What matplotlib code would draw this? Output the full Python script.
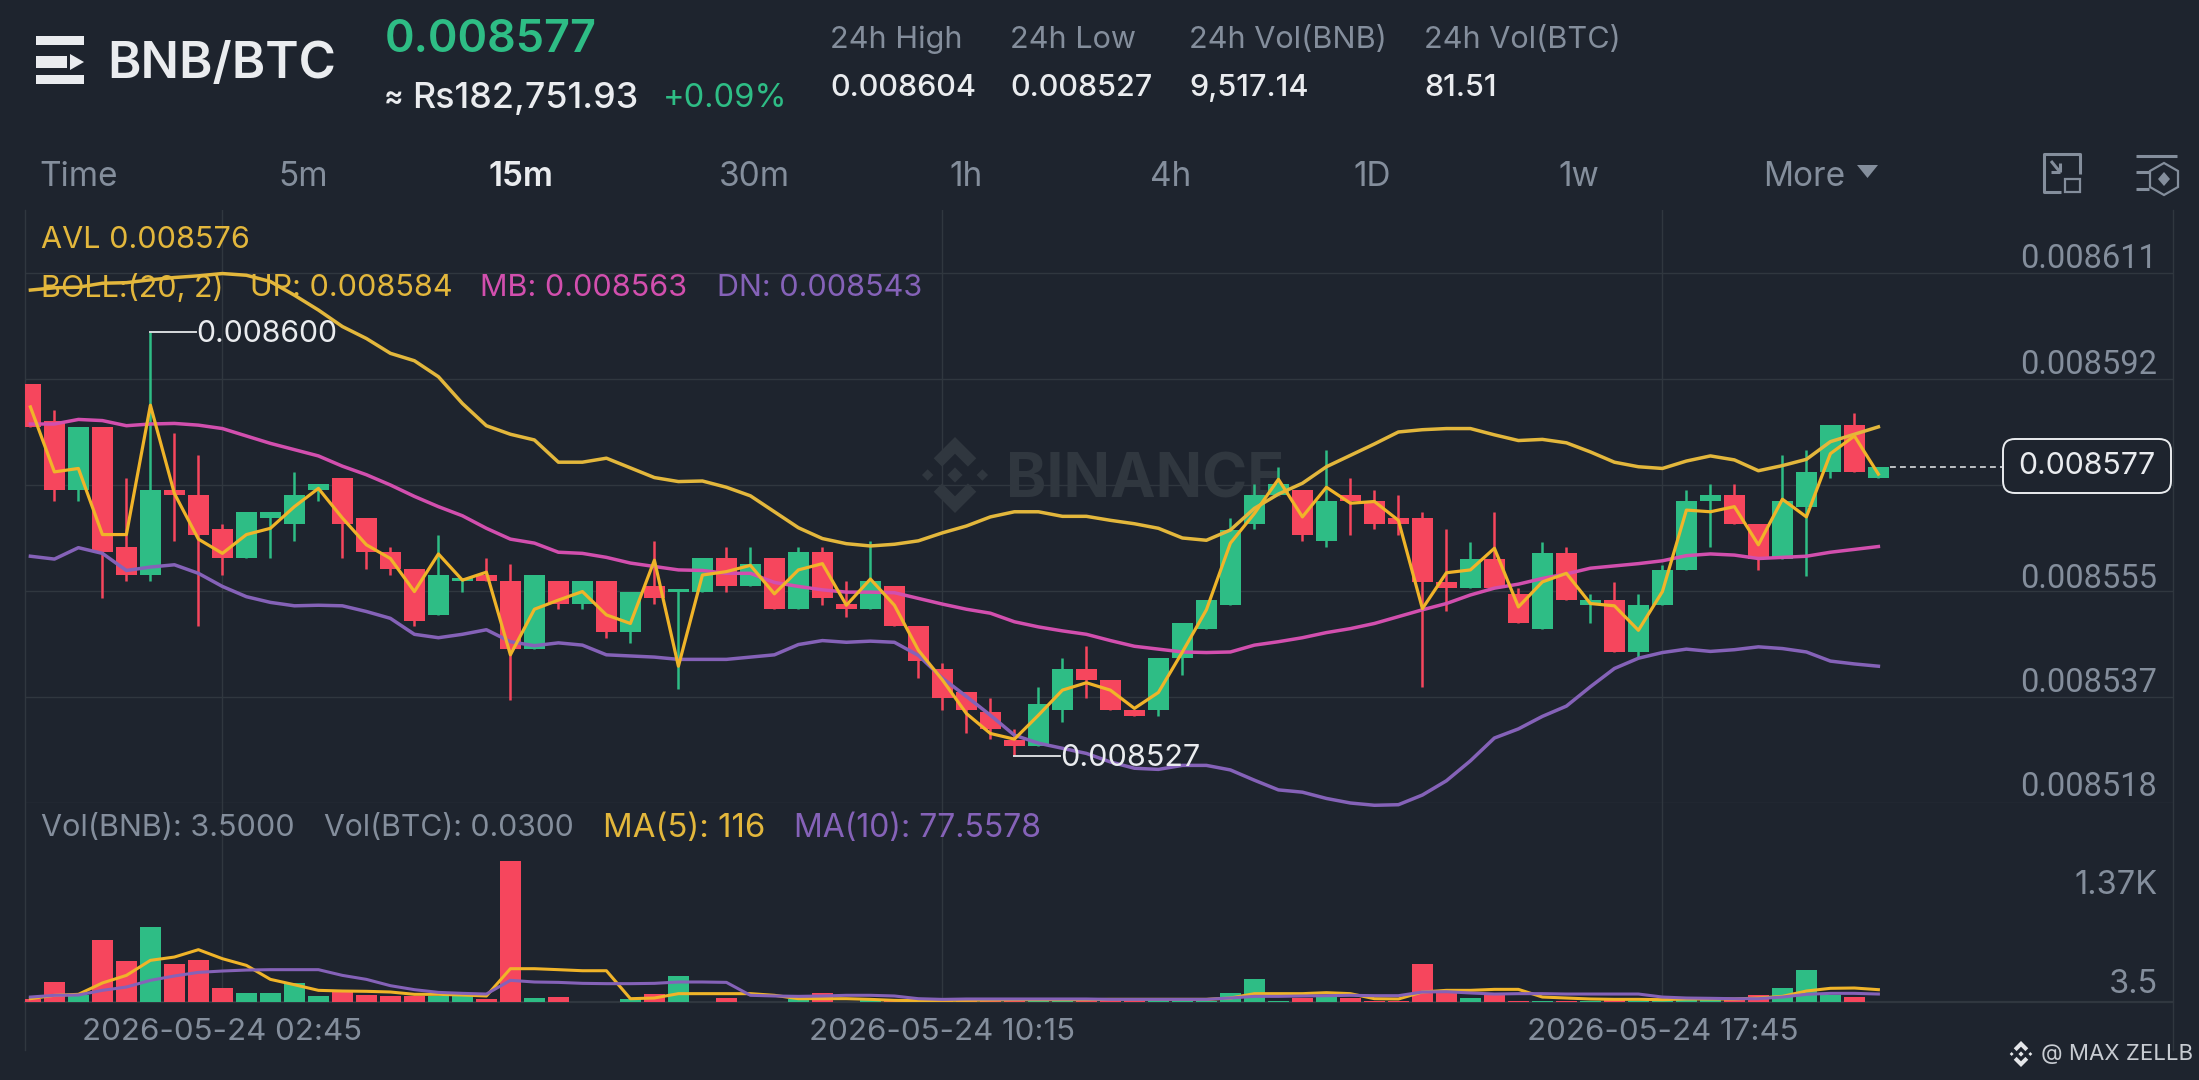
import numpy as np
import matplotlib
matplotlib.use("Agg")
import matplotlib.pyplot as plt
from matplotlib.patches import Polygon, Rectangle, FancyBboxPatch

W, H = 2199, 1080
BG = "#1e242e"; GRID = "#30373f"; GREEN = "#2ebd85"; RED = "#f6465d"
GRAY = "#848e9c"; WHITE = "#eaecef"; YEL = "#e3b73c"; MAG = "#d24fae"; PUR = "#8562b8"
AVLC = "#f0b429"
plt.rcParams["font.family"] = ["Inter", "DejaVu Sans"]

# prices: units of 0.000001 above 0.008
opens = [591.5,585,573,584,563,558,573,572,566,561,568,567,573,575,568,562,559,551,557,558,557,545,557,553,557,548,556,555,
         555,561,556,561,552,562,553,552,556,549,541.5,537.4,534,529,528,534.3,541.5,539.5,534.3,534.3,543.5,548.6,552.7,567,572,573,564,572,571,
         568,568,556.8,555.7,560.8,554.7,548.6,561.9,552.7,553.7,544.5,552.7,558.8,571,572,567,560.9,570,576,584.3,575]
closes = [584,573,584,562,558,573,572,565,561,569,569,572,574,567,562,559,550,558,557.5,557,545,558,553,557,548,555,554,555.5,
          561,556,560,552,562,554,552,557,549,543,536.4,534.3,531,528,535.4,541.5,539.5,534.3,533.3,543.5,549.6,553.7,565.9,572,574,565,571,571,567,
          567,556.8,555.7,560.8,555.7,549.6,561.9,553.7,553.7,544.5,552.7,558.8,571,572,567,560.9,571,576,584.3,576,577]
highs = [591.5,587,584,584,575,600.6,583,579,567,569,569,576,574,575,568,563,559,565,557.5,561,560,558,557,557,557,555,564,555.5,
         561,563,563,561,563,563,557,564,556,549,542.5,537.4,536.4,531,538.4,543.5,545.5,539.5,534.3,543.5,549.6,553.7,568,574,577,573,580,575,573,
         572,569,566,563.8,569,555.7,563.8,562.9,554.7,556.8,554.7,559.8,573,574,574,567,579,580,584.3,586.4,577]
lows = [584,571,571,554,557,557,564,549,558,561,561,564,571,561,559,558,549,551,555,557,536,545,552,552,547,546,553,538,
        555,555,556,552,552,552.7,550.7,552,549,540,534.3,530.2,529.2,526.2,528,532.3,536.4,534.3,533.3,533.3,540.4,548.6,552.7,566,572,564,563,565,566,
        565,538.4,551.7,555.7,555.7,549.6,548.6,553.7,549.6,544.5,543.5,552.7,558.8,563,567,558.8,560.9,557.8,575,576,575]
avl = [587.5,576.1,576.7,565.1,565.1,587.8,572.3,564.3,561.8,565.1,566.2,570,573.2,568,563.3,560.9,555.1,561.7,557.1,558.5,544,552,553.6,555.1,551,549.5,560.6,542,
       558,558.6,559.7,554.7,558.9,560,552.7,557.3,552.7,544.8,539.6,533.7,530.2,529.2,533.4,537.8,539.1,537.8,534.6,537.4,544.5,551.9,563.6,568.8,574.8,568.2,573.4,570.6,570.9,
       567.6,552.1,558.4,558.9,562.7,552.4,556.8,558.3,553,552.6,548.3,555.1,569.4,569.1,570,563.3,571.3,568.2,579.3,582.4,575.7]
boll_up = [608,608.4,608.5,609.2,609.3,609.8,610.2,610.5,610.9,610.6,609.5,607.1,604.5,601.6,599.5,596.9,595.6,592.8,588.1,584.2,582.7,581.7,577.8,577.8,578.5,576.8,575.1,574.4,
           574.5,573.4,571.9,569.1,566.3,564.4,563.5,563.1,563.4,564,565.4,566.6,568.2,569.1,569.1,568.3,568.3,567.6,567,566.2,564.5,564.1,565.9,569.7,572.2,574.1,577,579,581,
           583.1,583.5,583.7,583.7,582.6,581.6,581.8,581.2,579.6,577.8,577,576.7,578,578.9,578.2,576.3,577.2,578.3,581.4,582.7,584]
boll_mb = [584.5,584.5,585.3,585.1,584.2,584.5,584.6,584.3,583.7,582.4,581.1,580,578.9,577.1,575.6,573.8,571.8,570,568.4,566.2,564.3,563.6,562,561.8,561.1,560.1,559.5,558.9,
           558.8,558.3,558.3,556.7,556,555.4,555,555,554.9,553.9,552.9,552,551.3,549.8,548.9,548.2,547.6,546.5,545.5,545,544.5,544.4,544.5,545.7,546.3,547,547.9,548.6,549.5,
           550.7,551.9,553,554.5,555.7,556.4,557.4,558.2,559.2,559.6,560,560.5,561.4,561.7,561.5,560.9,561.1,561.3,562,562.5,563]
boll_dn = [561.3,560.8,562.8,561.8,558.8,559.4,559.8,558.3,556,554.2,553.2,552.6,552.7,552.6,551.6,550.4,547.6,547,547.6,548.4,546.3,545.6,546.1,545.7,544,543.8,543.6,543.2,
           543.2,543.2,543.6,544,545.8,546.5,546.2,546.4,546.2,543.9,539.9,536.7,533.4,529.9,528.5,527.6,526.7,525.2,524.1,523.9,524.6,524.6,523.8,522,520.3,519.9,518.8,518,517.6,
           517.7,519.4,521.9,525.4,529.4,531,533.2,535,538.4,541.6,543.4,544.4,545,544.6,544.9,545.4,545.1,544.5,542.9,542.4,542]
volume = [44,266,89,820,545,997,509,563,190,124,120,257,75,133,89,80,75,80,75,40,1874,58,66,4,4,44,102,341,4,49,4,4,35,124,4,35,9,9,13,18,22,27,9,9,27,9,9,9,9,9,
          124,310,13,53,66,53,13,13,509,124,53,111,9,9,9,9,53,13,13,22,22,31,97,190,430,89,66,4]
vol_ma5 = [44,89,102,253,354,554,598,696,576,487,301,230,155,146,142,133,102,102,93,80,443,443,430,416,416,44,53,111,111,111,111,89,44,44,44,35,22,18,22,22,27,31,31,31,31,35,35,35,35,35,
           53,111,111,111,124,111,44,40,133,155,155,168,168,66,53,40,35,35,31,40,40,40,53,75,146,182,186,164]
vol_ma10 = [66,89,93,155,199,288,346,394,412,425,430,430,430,354,301,217,164,128,115,106,288,266,261,248,244,244,248,266,266,261,89,80,75,80,89,89,80,44,35,40,40,40,40,40,40,35,35,35,35,35,
            53,75,75,80,84,89,84,84,133,137,120,106,111,111,106,106,106,106,66,53,49,44,44,66,102,115,115,106]

price_ticks = [611, 592.4, 573.8, 555.2, 536.6, 518]
price_labels = {"0.008611": 256, "0.008592": 362, "0.008555": 575, "0.008537": 680, "0.008518": 784}
time_idx = [8, 38, 68]
time_labels = ["2026-05-24 02:45", "2026-05-24 10:15", "2026-05-24 17:45"]
tabs = [("Time",39),("5m",278),("15m",488),("30m",719),("1h",949),("4h",1150),("1D",1353),("1w",1558),("More",1763)]
header_stats = [("24h High","0.008604",830),("24h Low","0.008527",1010),("24h Vol(BNB)","9,517.14",1189),("24h Vol(BTC)","81.51",1424)]

def P(a):
    return np.asarray(a, float) * 1e-6 + 0.008

fig = plt.figure(figsize=(W/100, H/100), dpi=100, facecolor=BG)

def box(x0, y0, x1, y1):
    return [x0/W, 1-y1/H, (x1-x0)/W, (y1-y0)/H]

bg = fig.add_axes([0,0,1,1], zorder=0); bg.set_xlim(0,W); bg.set_ylim(H,0); bg.axis("off")
ov = fig.add_axes([0,0,1,1], zorder=10); ov.set_xlim(0,W); ov.set_ylim(H,0); ov.axis("off"); ov.patch.set_alpha(0)

def logo(a, cx, cy, r, color, zo=1):
    pts = [[(0,-1),(.56,-.44),(.34,-.22),(0,-.56),(-.34,-.22),(-.56,-.44)],
           [(0,1),(.56,.44),(.34,.22),(0,.56),(-.34,.22),(-.56,.44)],
           [(0,-.2),(.2,0),(0,.2),(-.2,0)],
           [(-.72,-.15),(-.57,0),(-.72,.15),(-.87,0)],
           [(.72,-.15),(.87,0),(.72,.15),(.57,0)]]
    for p in pts:
        a.add_patch(Polygon([(cx+x*r, cy+y*r) for x,y in p], closed=True, fc=color, ec="none", zorder=zo))

for x in (25, 2173):
    bg.plot([x,x],[210,1050], color=GRID, lw=1)
bg.plot([25,2173],[1002,1002], color=GRID, lw=1.6)
logo(bg, 955, 475, 38, "#30373f")
bg.text(1006, 481, "BINANCE", color="#30373f", fontsize=44, fontweight="bold", va="center", ha="left")

# price pane
ax = fig.add_axes(box(25,210,2173,803), zorder=2)
ax.patch.set_alpha(0)
ax.set_xlim((25-30.4)/24, (2173-30.4)/24)
ax.set_ylim(P(518), P(622.05))
ax.set_yticks(P(price_ticks)); ax.set_xticks(time_idx)
ax.tick_params(length=0, labelleft=False, labelbottom=False)
ax.grid(True, color=GRID, lw=1); ax.set_axisbelow(True)
for s in ax.spines.values(): s.set_visible(False)

xs = np.arange(len(opens))
o, c, h, l = P(opens), P(closes), P(highs), P(lows)
cols = [GREEN if cc >= oo else RED for oo, cc in zip(opens, closes)]
ax.vlines(xs, l, h, colors=cols, lw=1.8, zorder=3)
ax.bar(xs, np.abs(c-o), bottom=np.minimum(o,c), width=0.875, color=cols, zorder=3)
ax.plot(xs, P(boll_up), color=YEL, lw=2.5, zorder=4, solid_joinstyle="round")
ax.plot(xs, P(boll_mb), color=MAG, lw=2.5, zorder=4)
ax.plot(xs, P(boll_dn), color=PUR, lw=2.5, zorder=4, clip_on=False)
ax.plot(xs, P(avl), color=AVLC, lw=2.3, zorder=5)
ax.plot([77.5, (2002-30.4)/24], [c[-1]]*2, color="#d8dadd", lw=1.2, ls=(0,(3.5,2.5)), zorder=5)

i_hi = int(np.argmax(highs)); i_lo = int(np.argmin(lows))
ax.plot([i_hi, (196-30.4)/24], [h[i_hi]]*2, color="#d8dadd", lw=1.4, zorder=5)
ax.plot([i_lo, (1060-30.4)/24], [l[i_lo]]*2, color="#d8dadd", lw=1.4, zorder=5)

# volume pane
vx = fig.add_axes(box(25,803,2173,1002), zorder=2)
vx.patch.set_alpha(0)
vx.set_xlim(ax.get_xlim())
vx.set_ylim(0, 199*13.3)
vx.set_xticks(time_idx); vx.set_yticks([])
vx.tick_params(length=0, labelbottom=False)
vx.grid(True, axis="x", color=GRID, lw=1); vx.set_axisbelow(True)
for s in vx.spines.values(): s.set_visible(False)
vx.bar(xs, volume, width=0.875, color=cols, zorder=3)
vx.plot(xs, vol_ma5, color=AVLC, lw=2.2, zorder=4)
vx.plot(xs, vol_ma10, color=PUR, lw=2.2, zorder=5)

def T(x, y, s, color=GRAY, size=22, ha="left", weight="normal", family=None):
    ov.text(x, y+3.5, s, color=color, fontsize=size, ha=ha, va="center", fontweight=weight,
            family=family if family else ["Inter", "DejaVu Sans"])

# header
ov.add_patch(Rectangle((36,36),48,9,fc=WHITE,ec="none"))
ov.add_patch(Rectangle((36,56),31,12,fc=WHITE,ec="none"))
ov.add_patch(Polygon([(70,54),(84,62),(70,70)],fc=WHITE,ec="none"))
ov.add_patch(Rectangle((36,75),48,9,fc=WHITE,ec="none"))
T(107, 61, "BNB/BTC", WHITE, 36.5, weight="semibold")
T(385, 36, "0.008577", GREEN, 32.3, weight="semibold")
T(384, 95, "≈", WHITE, 21, weight="semibold")
T(412, 95, "Rs182,751.93", WHITE, 25.8, weight="medium")
T(663, 95, "+0.09%", GREEN, 23.5)
for name, val, x in header_stats:
    T(x, 36, name, GRAY, 22.1)
    T(x, 84, val, WHITE, 22, weight="medium")
for name, x in tabs:
    act = name == "15m"
    T(x, 174, name, WHITE if act else GRAY, 24, weight="semibold" if act else "normal")
ov.add_patch(Polygon([(1857,165),(1878,165),(1867.5,178)],fc=GRAY,ec="none"))

# toolbar icons
ic = dict(color=GRAY, lw=2.2, solid_capstyle="butt")
ov.plot([2061,2044,2044,2080,2080],[192,192,154,154,174], **ic)
ov.plot([2051,2060],[161,172], **ic); ov.plot([2060,2060],[163,172], **ic); ov.plot([2051,2060],[172,172], **ic)
ov.add_patch(Rectangle((2065,179),15,13,fc="none",ec=GRAY,lw=1.6))
ov.plot([2136,2177],[156,156], **ic); ov.plot([2136,2149],[172,172], **ic); ov.plot([2136,2149],[189,189], **ic)
hexa = [(2164,163),(2178,171),(2178,187),(2164,195),(2150,187),(2150,171)]
ov.add_patch(Polygon(hexa,closed=True,fc="none",ec=GRAY,lw=1.6))
ov.add_patch(Polygon([(2164,172),(2170,179),(2164,186),(2158,179)],fc=GRAY,ec="none"))

# legends
T(41, 237, "AVL 0.008576", YEL)
T(41, 285, "BOLL:(20, 2)", YEL)
T(250, 285, "UP: 0.008584", YEL)
T(480, 285, "MB: 0.008563", MAG)
T(717, 285, "DN: 0.008543", PUR)
T(41, 825, "Vol(BNB): 3.5000")
T(324, 825, "Vol(BTC): 0.0300", GRAY, 21.7)
T(603, 825, "MA(5): 116", YEL, 23.7)
T(794, 825, "MA(10): 77.5578", PUR, 23)

# axis labels
for s, y in price_labels.items():
    T(2157, y, s, GRAY, 23.5, ha="right", family="Roboto")
T(2158, 882, "1.37K", GRAY, 23.5, ha="right")
T(2158, 981, "3.5", GRAY, 23.5, ha="right")
for i, s in zip(time_idx, time_labels):
    T(30.4+24*i, 1029, s, GRAY, 22.5, ha="center")
T(196, 330, "0.008600", WHITE, 21.8)
T(1060, 754, "0.008527", WHITE)

# current price tag
ov.add_patch(FancyBboxPatch((2010,446),154,40,boxstyle="round,pad=7,rounding_size=12",
                            fc=BG,ec=WHITE,lw=1.4))
T(2087, 463, "0.008577", WHITE, 21.8, ha="center")

# credit
logo(ov, 2021, 1054, 13, "#e4e6e9", 12)
T(2041, 1051, "@ MAX ZELLB", "#c8ccd2", 16)

fig.savefig("out.png", dpi=100, facecolor=BG)
